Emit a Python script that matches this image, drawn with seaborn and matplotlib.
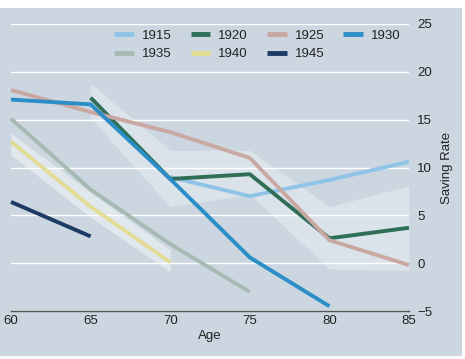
import numpy as np
import pandas as pd
import matplotlib
matplotlib.use("Agg")
import matplotlib.pyplot as plt
import seaborn as sns
from matplotlib.patches import Rectangle

sns.set_style("white")
plt.rcParams['font.family'] = ['Liberation Sans', 'DejaVu Sans']

# ---- data ----
cohorts = ["1915", "1920", "1925", "1930", "1935", "1940", "1945"]
ages_1915 = [70, 75, 80, 85]
rate_1915 = [9.0, 7.0, 8.7, 10.6]
ages_1920 = [65, 70, 75, 80, 85]
rate_1920 = [17.3, 8.8, 9.3, 2.6, 3.7]
ages_1925 = [60, 65, 70, 75, 80, 85]
rate_1925 = [18.1, 15.8, 13.7, 11.0, 2.4, -0.2]
ages_1930 = [60, 65, 70, 75, 80]
rate_1930 = [17.1, 16.6, 8.8, 0.6, -4.5]
ages_1935 = [60, 65, 70, 75]
rate_1935 = [15.1, 7.7, 2.0, -3.0]
ages_1940 = [60, 65, 70]
rate_1940 = [12.7, 5.9, 0.1]
ages_1945 = [60, 65]
rate_1945 = [6.4, 2.8]

band1_ages = [65, 70, 75, 80, 85]
band1_low = [15.2, 5.9, 7.2, -0.6, -0.8]
band1_high = [18.8, 11.8, 11.8, 5.9, 8.1]
band2_ages = [60, 65, 70]
band2_low = [11.3, 4.8, -0.9]
band2_high = [13.6, 7.4, 1.4]

colors = ["#8fc3e8", "#2f6e57", "#c9a8a2", "#2b8ec6", "#a6bab3", "#e3dc94", "#1d3a64"]

ages_all = [ages_1915, ages_1920, ages_1925, ages_1930, ages_1935, ages_1940, ages_1945]
rates_all = [rate_1915, rate_1920, rate_1925, rate_1930, rate_1935, rate_1940, rate_1945]
rows = []
for c, a, r in zip(cohorts, ages_all, rates_all):
    for ai, ri in zip(a, r):
        rows.append({"Age": ai, "Rate": ri, "Cohort": c})
df = pd.DataFrame(rows)

bg = "#cbd6e1"
fig = plt.figure(figsize=(4.65, 3.59), dpi=100, facecolor="white")
fig.patches.append(Rectangle((0, 3 / 359), 462 / 465, 348 / 359, transform=fig.transFigure,
                             facecolor=bg, edgecolor="none", zorder=-10))
ax = fig.add_axes([11 / 465, 48 / 359, 398 / 465, 287 / 359])
ax.set_facecolor("none")

ax.fill_between(band1_ages, band1_low, band1_high, color="white", alpha=0.32, lw=0, zorder=1)
ax.fill_between(band2_ages, band2_low, band2_high, color="white", alpha=0.42, lw=0, zorder=1)

sns.lineplot(data=df, x="Age", y="Rate", hue="Cohort", hue_order=cohorts,
             palette=colors, linewidth=2.8, ax=ax, zorder=3)
for ln in ax.lines:
    ln.set_clip_on(False)
    ln.set_solid_capstyle("butt")

ax.set_xlim(60, 85)
ax.set_ylim(-5, 25)
ax.set_xticks([60, 65, 70, 75, 80, 85])
ax.set_yticks([-5, 0, 5, 10, 15, 20, 25])
ax.yaxis.tick_right()
ax.yaxis.set_label_position("right")
ax.grid(axis="y", color="white", lw=1.0)
ax.grid(axis="x", visible=False)
ax.set_axisbelow(True)
for s in ["top", "left", "right"]:
    ax.spines[s].set_visible(False)
ax.spines["bottom"].set_color("#555555")
ax.spines["bottom"].set_linewidth(1.0)
ax.tick_params(axis="x", direction="in", length=4, width=0.8, color="#555555",
               labelsize=9.5, pad=3, labelcolor="#222222")
ax.tick_params(axis="y", length=0, labelsize=9.5, pad=6, labelcolor="#222222")
ax.set_xlabel("Age", fontsize=9.5, color="#222222", labelpad=2)
ax.set_ylabel("Saving Rate", fontsize=9.5, color="#222222", labelpad=6)

# legend filled row by row
handles, labels = ax.get_legend_handles_labels()
lookup = dict(zip(labels, handles))
order = ["1915", "1935", "1920", "1940", "1925", "1945", "1930"]
leg = ax.legend([lookup[k] for k in order], order, loc="center",
                bbox_to_anchor=(0.619, 0.927), ncol=4, frameon=False,
                fontsize=9.5, handlelength=1.5, columnspacing=1.45,
                handletextpad=0.6, labelspacing=0.5)
for h in leg.get_lines():
    h.set_linewidth(3.5)
for t in leg.get_texts():
    t.set_color("#222222")

fig.savefig("out.png", dpi=100, facecolor="white")
